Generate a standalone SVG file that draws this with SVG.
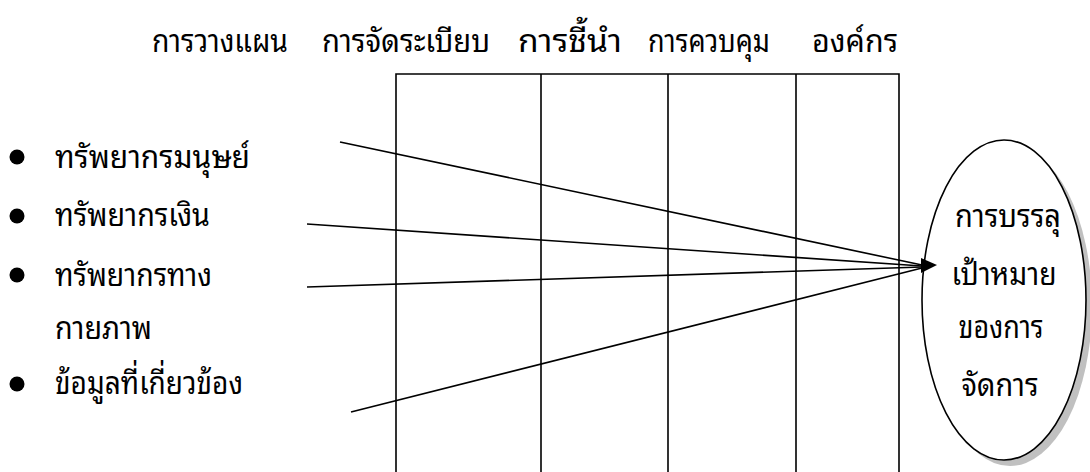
<svg xmlns="http://www.w3.org/2000/svg" width="1090" height="472" viewBox="0 0 1090 472">
<style>
text{font-family:"Noto Sans Thai Looped","Noto Sans Thai","Noto Sans",sans-serif;font-size:32px;fill:#000}
.ln{stroke:#000;stroke-width:1.6;fill:none}
.c{text-anchor:middle}
</style>
<rect width="1090" height="472" fill="#fff"/>
<g id="header">
<text x="152" y="52" textLength="136" lengthAdjust="spacingAndGlyphs">การวางแผน</text>
<text x="322" y="52" textLength="168" lengthAdjust="spacingAndGlyphs">การจัดระเบียบ</text>
<text x="518" y="52" textLength="104" lengthAdjust="spacingAndGlyphs">การชี้นำ</text>
<text x="648" y="52" textLength="122" lengthAdjust="spacingAndGlyphs">การควบคุม</text>
<text x="812" y="52" textLength="86" lengthAdjust="spacingAndGlyphs">องค์กร</text>
</g>
<g id="table">
<path class="ln" d="M396,472V74H899V472M541,74V472M668,74V472M796,74V472"/>
</g>
<g id="resources">
<circle cx="17" cy="157" r="7.5"/>
<circle cx="17" cy="216" r="7.5"/>
<circle cx="17" cy="275" r="7.5"/>
<circle cx="17" cy="384" r="7.5"/>
<text x="55" y="168" textLength="195" lengthAdjust="spacingAndGlyphs">ทรัพยากรมนุษย์</text>
<text x="55" y="226" textLength="155" lengthAdjust="spacingAndGlyphs">ทรัพยากรเงิน</text>
<text x="55" y="286" textLength="157" lengthAdjust="spacingAndGlyphs">ทรัพยากรทาง</text>
<text x="55" y="339" textLength="97" lengthAdjust="spacingAndGlyphs">กายภาพ</text>
<text x="55" y="394" textLength="188" lengthAdjust="spacingAndGlyphs">ข้อมูลที่เกี่ยวข้อง</text>
</g>
<g id="goal">
<ellipse cx="1010" cy="306" rx="82" ry="160" fill="#c0c0c0"/>
<ellipse cx="1004" cy="300" rx="82" ry="160" fill="#fff" stroke="#000" stroke-width="1.6"/>
<text class="c" x="1008" y="227" textLength="106" lengthAdjust="spacingAndGlyphs">การบรรลุ</text>
<text class="c" x="1004" y="285" textLength="105" lengthAdjust="spacingAndGlyphs">เป้าหมาย</text>
<text class="c" x="1001" y="338" textLength="85" lengthAdjust="spacingAndGlyphs">ของการ</text>
<text class="c" x="1000" y="396" textLength="77" lengthAdjust="spacingAndGlyphs">จัดการ</text>
</g>
<g id="connectors">
<line class="ln" x1="340" y1="142" x2="922" y2="265"/>
<line class="ln" x1="307" y1="224" x2="922" y2="266"/>
<line class="ln" x1="307" y1="287" x2="922" y2="267"/>
<line class="ln" x1="351" y1="412" x2="922" y2="268"/>
<polygon points="937,265 921,258 921,273" fill="#000"/>
</g>
</svg>
